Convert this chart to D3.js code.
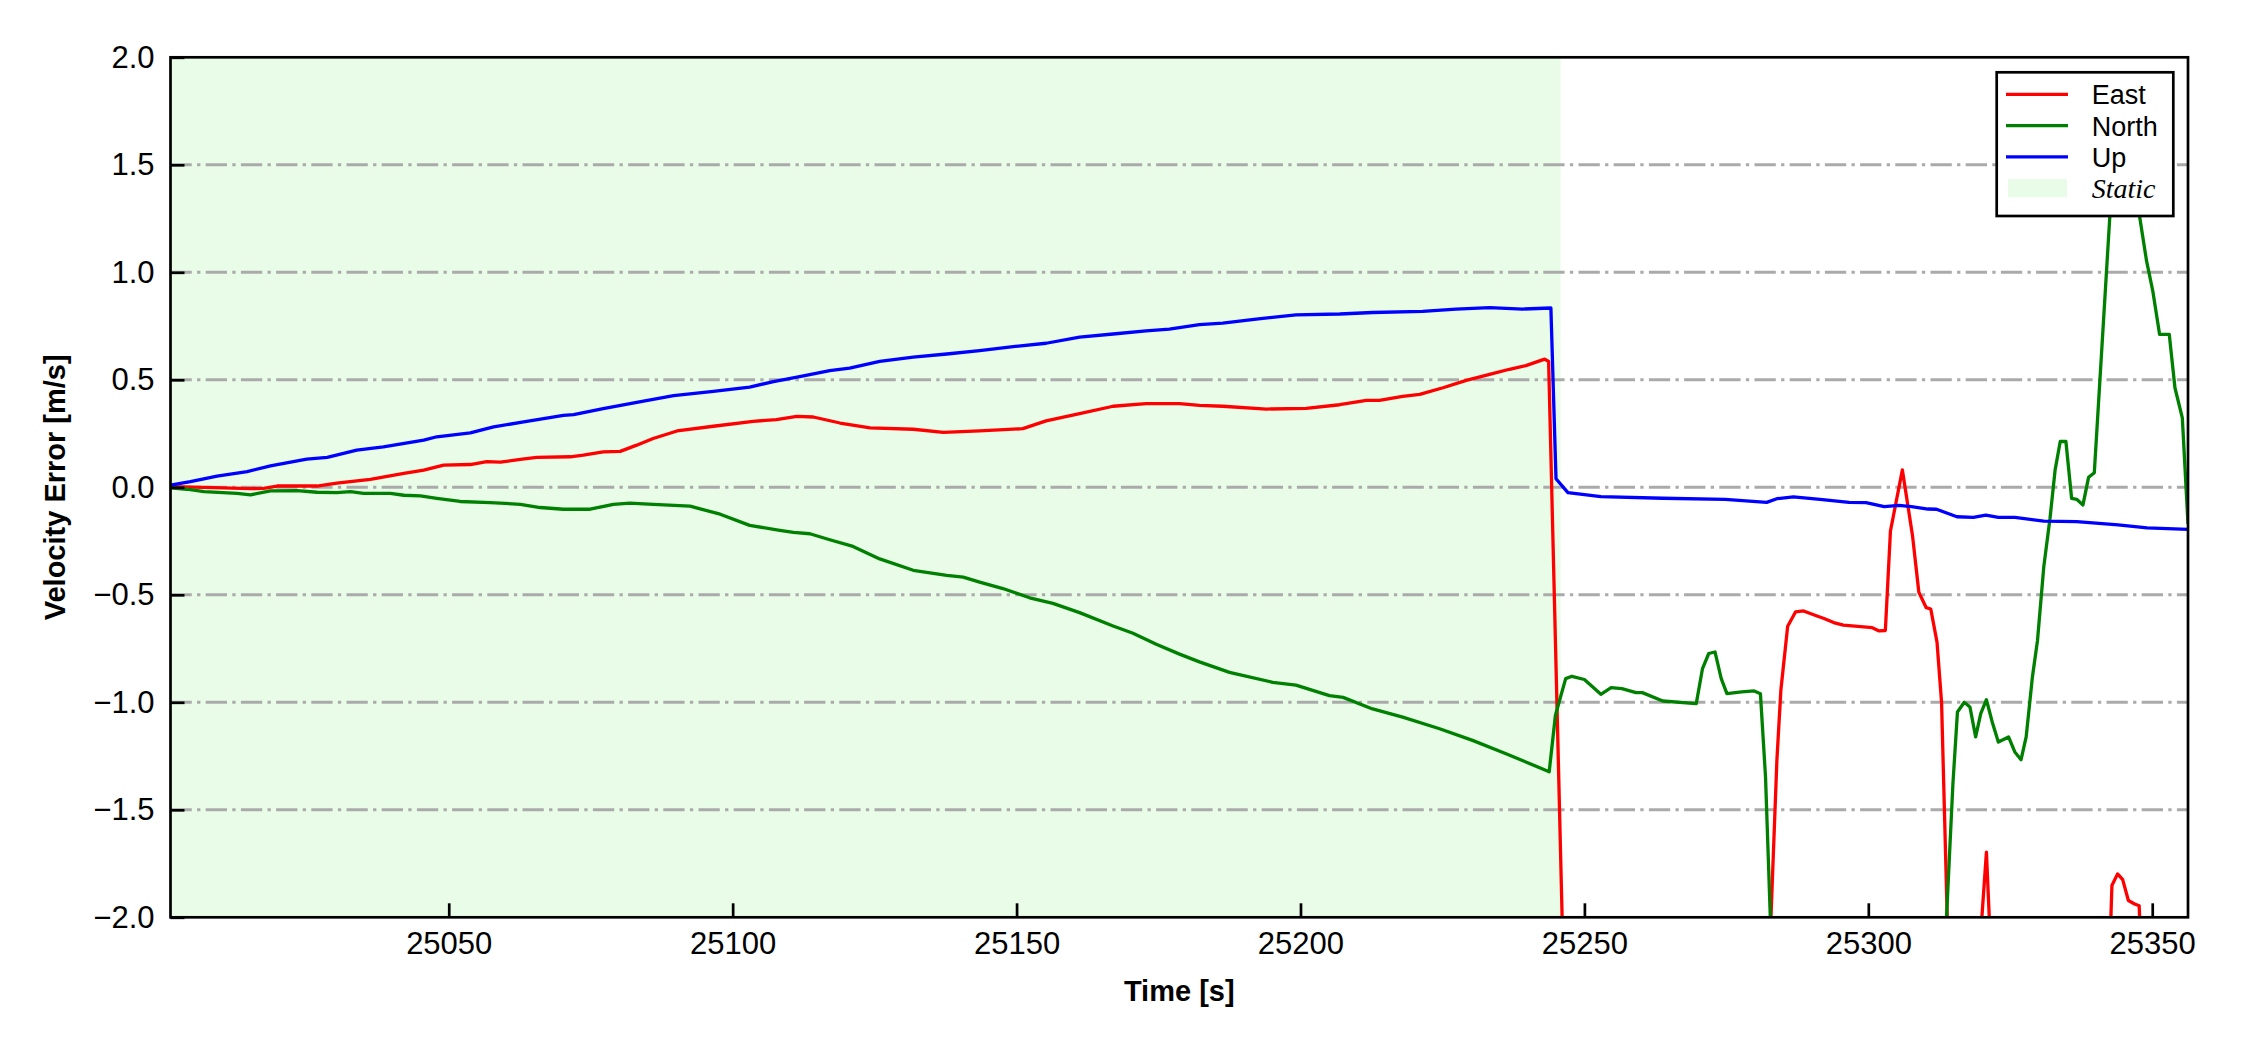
<!DOCTYPE html>
<html><head><meta charset="utf-8">
<script src="https://cdn.jsdelivr.net/npm/d3@7"></script>
<style>body{margin:0;background:#fff;} svg{display:block;}</style>
</head><body>
<svg id="chart" width="2250" height="1050"></svg>
<script>
// ---------------- data ----------------
const eastTime = [25001.0,25006.9,25015.1,25017.4,25019.8,25023.3,25026.8,25030.3,25036.2,25042.1,25045.6,25049.1,25053.8,25056.7,25059.1,25062.6,25065.5,25071.4,25073.7,25077.2,25080.2,25083.1,25086.0,25090.2,
  25096.6,25103.6,25107.7,25111.3,25114.2,25118.9,25124.2,25131.8,25137.1,25143.5,25151.1,25155.2,25161.1,25167.0,25172.8,25178.7,25182.2,
  25186.3,25194.0,25201.0,25206.9,25211.6,25213.9,25218.0,25221.0,25225.1,25229.2,25233.3,25236.8,25239.7,25243.0,25243.7,
  25247.0,25265.0,25282.0,25283.9,25284.6,25285.8,25287.2,25288.6,25290.6,25292.2,25293.9,25295.6,25300.7,25301.9,25303.0,25303.9,25306.0,25307.8,25308.9,25310.2,25311.0,25312.1,25312.9,25314.5,25317.0,25319.8,25320.8,25321.8,25330.0,25342.0,25342.9,25343.9,25344.8,25345.8,25346.9,25347.7,25348.7,25356.3];
const eastValue = [0.003,0.000,-0.006,-0.005,0.006,0.006,0.006,0.019,0.037,0.065,0.080,0.103,0.106,0.119,0.117,0.130,0.139,0.142,0.150,0.165,0.167,0.196,0.227,0.262,
  0.284,0.307,0.315,0.330,0.327,0.299,0.276,0.270,0.255,0.262,0.273,0.309,0.343,0.377,0.389,0.389,0.381,
  0.377,0.364,0.367,0.384,0.404,0.404,0.423,0.432,0.463,0.497,0.525,0.549,0.566,0.596,0.585,
  -3.0,-3.2,-2.6,-1.27,-0.944,-0.646,-0.579,-0.575,-0.595,-0.610,-0.629,-0.641,-0.653,-0.668,-0.666,-0.203,0.081,-0.228,-0.488,-0.560,-0.566,-0.720,-1.000,-2.6,-2.8,-2.076,-1.697,-2.3,-2.8,-2.6,-1.852,-1.798,-1.825,-1.922,-1.938,-1.946,-2.6,-2.9];

const northTime = [25001.0,25003.9,25006.9,25012.7,25015.1,25018.6,25023.3,25026.8,25030.3,25032.7,25035.0,25039.7,25042.1,25045.0,25047.9,25052.0,25057.3,25062.6,25066.1,25070.2,25074.9,25079.0,25081.9,25086.0,25092.5,
  25097.8,25103.0,25108.3,25110.7,25113.6,25117.1,25121.2,25125.9,25131.8,25137.7,25140.6,25143.5,25147.6,25152.3,25156.4,25161.1,25167.0,25170.5,25174.6,25178.7,25182.2,
  25187.5,25195.1,25199.2,25205.1,25207.5,25212.7,25218.0,25224.5,25230.3,25236.2,25243.8,
  25244.9,25246.7,25247.8,25250.0,25252.9,25254.7,25256.6,25259.1,25260.2,25263.8,25269.7,25270.8,25271.9,25273.0,25274.1,25275.1,25277.7,25279.9,25281.0,25281.9,25283.0,25300.0,25313.5,
  25314.9,25315.7,25316.9,25317.9,25318.9,25319.8,25320.8,25321.9,25322.9,25324.7,25325.8,25326.9,25327.8,25328.9,25329.8,25330.9,25332.0,25332.9,25333.8,25334.8,25335.8,25336.7,25337.8,25338.8,25339.8,
  25344.0,25349.0,25350.1,25351.3,25353.0,25354.0,25355.3,25356.3];
const northValue = [-0.003,-0.009,-0.020,-0.028,-0.035,-0.017,-0.015,-0.023,-0.025,-0.020,-0.028,-0.028,-0.037,-0.040,-0.051,-0.066,-0.071,-0.079,-0.094,-0.102,-0.102,-0.079,-0.074,-0.079,-0.088,
  -0.125,-0.177,-0.200,-0.210,-0.216,-0.244,-0.275,-0.333,-0.386,-0.410,-0.418,-0.441,-0.471,-0.514,-0.540,-0.583,-0.645,-0.679,-0.730,-0.776,-0.812,
  -0.861,-0.907,-0.920,-0.969,-0.977,-1.031,-1.069,-1.123,-1.177,-1.239,-1.323,
  -1.060,-0.890,-0.879,-0.894,-0.963,-0.932,-0.936,-0.955,-0.955,-0.994,-1.006,-0.843,-0.773,-0.766,-0.890,-0.960,-0.952,-0.947,-0.960,-1.348,-2.2,-3.0,-2.15,
  -1.379,-1.045,-1.000,-1.022,-1.161,-1.053,-0.988,-1.099,-1.185,-1.161,-1.231,-1.267,-1.161,-0.882,-0.711,-0.370,-0.144,0.081,0.213,0.213,-0.051,-0.056,-0.082,0.047,0.068,
  1.900,1.053,0.913,0.711,0.711,0.463,0.323,-0.170];

const upTime = [25001.0,25004.5,25009.2,25014.5,25018.6,25025.0,25028.6,25033.8,25038.5,25045.6,25047.9,25053.8,25057.9,25063.2,25070.2,25072.0,25077.2,25084.3,25089.6,
  25096.6,25103.0,25107.2,25111.8,25117.1,25120.6,25125.9,25131.8,25137.7,25143.5,25149.4,25155.2,25161.1,25167.0,25172.8,25176.9,25182.2,
  25186.3,25192.2,25199.2,25206.9,25212.7,25221.5,25227.4,25233.3,25239.1,25244.1,
  25245.0,25247.1,25252.9,25263.8,25274.8,25282.1,25283.9,25286.8,25291.5,25296.6,25299.6,25302.8,25305.4,25307.6,25310.5,25312.0,25315.6,25318.5,25320.7,25322.9,25325.8,25330.9,25336.7,25344.0,25349.1,25356.3];
const upValue = [0.010,0.026,0.052,0.073,0.100,0.131,0.139,0.173,0.188,0.219,0.235,0.253,0.281,0.304,0.335,0.338,0.366,0.401,0.426,
  0.446,0.466,0.492,0.515,0.543,0.554,0.586,0.605,0.620,0.636,0.654,0.670,0.698,0.713,0.728,0.736,0.757,
  0.764,0.782,0.802,0.806,0.813,0.818,0.829,0.836,0.829,0.834,
  0.040,-0.025,-0.043,-0.051,-0.056,-0.070,-0.053,-0.045,-0.056,-0.070,-0.071,-0.090,-0.084,-0.090,-0.101,-0.102,-0.137,-0.140,-0.129,-0.140,-0.140,-0.157,-0.160,-0.175,-0.189,-0.196];

const seriesNames = ["East", "North", "Up"];
const staticSpan = [25001.0, 25245.8];
const xDomain = [25001.0, 25356.3];
const yDomain = [-2, 2];
const xTicks = [25050, 25100, 25150, 25200, 25250, 25300, 25350];
const yTicks = [-2.0, -1.5, -1.0, -0.5, 0.0, 0.5, 1.0, 1.5, 2.0];
const gridValues = [-1.5, -1.0, -0.5, 0.0, 0.5, 1.0, 1.5];
const legendLabels = ["East", "North", "Up", "Static"];

// ---------------- drawing ----------------
const W = 2250, H = 1050;
const m = {left: 170.5, right: 2188, top: 57.3, bottom: 917.3};
const colors = {East: "#ff0000", North: "#008000", Up: "#0000ff"};
const staticColor = "#e8fce8";
const sans = "'Liberation Sans', Arial, Helvetica, sans-serif";

const x = d3.scaleLinear().domain(xDomain).range([m.left, m.right]);
const y = d3.scaleLinear().domain(yDomain).range([m.bottom, m.top]);

const svg = d3.select("#chart");
svg.append("rect").attr("width", W).attr("height", H).attr("fill", "#fff");
svg.append("defs").append("clipPath").attr("id", "plotclip")
  .append("rect").attr("x", m.left).attr("y", m.top)
  .attr("width", m.right - m.left).attr("height", m.bottom - m.top);

// static span
svg.append("rect")
  .attr("x", x(staticSpan[0])).attr("y", m.top)
  .attr("width", x(staticSpan[1]) - x(staticSpan[0]))
  .attr("height", m.bottom - m.top)
  .attr("fill", staticColor);

// grid
svg.append("g").selectAll("line").data(gridValues).join("line")
  .attr("x1", m.left).attr("x2", m.right)
  .attr("y1", d => y(d)).attr("y2", d => y(d))
  .attr("stroke", "#aaaaaa").attr("stroke-width", 3)
  .attr("stroke-dasharray", "21.3,5.3,3.3,5.3");

// lines
const series = [
  {name: "East", t: eastTime, v: eastValue},
  {name: "North", t: northTime, v: northValue},
  {name: "Up", t: upTime, v: upValue}
];
const line = d3.line().x(d => x(d[0])).y(d => y(d[1]));
svg.append("g").attr("clip-path", "url(#plotclip)")
  .selectAll("path").data(series).join("path")
  .attr("d", s => line(s.t.map((t, i) => [t, s.v[i]])))
  .attr("fill", "none")
  .attr("stroke", s => colors[s.name])
  .attr("stroke-width", 3.3)
  .attr("stroke-linejoin", "round");

// axes
const fmt = d3.format(".1f");
const gy = svg.append("g").attr("transform", `translate(${m.left},0)`)
  .call(d3.axisLeft(y).tickValues(yTicks).tickSize(-14).tickPadding(16).tickFormat(fmt));
const gx = svg.append("g").attr("transform", `translate(0,${m.bottom})`)
  .call(d3.axisBottom(x).tickValues(xTicks).tickSize(-14).tickPadding(15).tickFormat(d3.format("d")));
[gx, gy].forEach(g => {
  g.select(".domain").remove();
  g.selectAll(".tick line").attr("stroke", "#000").attr("stroke-width", 2.7);
  g.selectAll(".tick text").attr("fill", "#000").style("font-family", sans).style("font-size", "31px");
});

// frame
svg.append("rect").attr("x", m.left).attr("y", m.top)
  .attr("width", m.right - m.left).attr("height", m.bottom - m.top)
  .attr("fill", "none").attr("stroke", "#000").attr("stroke-width", 2.7);

// axis labels
svg.append("text").attr("x", (m.left + m.right) / 2).attr("y", 1001)
  .attr("text-anchor", "middle").style("font-family", sans).style("font-size", "29px")
  .style("font-weight", "bold").text("Time [s]");
svg.append("text").attr("transform", `translate(64.5,${(m.top + m.bottom) / 2}) rotate(-90)`)
  .attr("text-anchor", "middle").style("font-family", sans).style("font-size", "29px")
  .style("font-weight", "bold").text("Velocity Error [m/s]");

// legend
const lg = svg.append("g");
lg.append("rect").attr("x", 1996.7).attr("y", 72.3).attr("width", 176.6).attr("height", 143.7)
  .attr("fill", "#fff").attr("stroke", "#000").attr("stroke-width", 2.7);
const rowY = i => 94.3 + i * 31.3;
legendLabels.forEach((lab, i) => {
  if (i < 3) {
    lg.append("line").attr("x1", 2006).attr("x2", 2068).attr("y1", rowY(i)).attr("y2", rowY(i))
      .attr("stroke", colors[seriesNames[i]]).attr("stroke-width", 3.3);
    lg.append("text").attr("x", 2091.7).attr("y", rowY(i) + 10)
      .style("font-family", sans).style("font-size", "27px").text(lab);
  } else {
    lg.append("rect").attr("x", 2008).attr("y", rowY(i) - 9).attr("width", 59).attr("height", 18)
      .attr("fill", staticColor);
    lg.append("text").attr("x", 2091.7).attr("y", rowY(i) + 10)
      .style("font-family", "'Liberation Serif', 'Times New Roman', serif")
      .style("font-style", "italic").style("font-size", "28px").text(lab);
  }
});
</script>
</body></html>
